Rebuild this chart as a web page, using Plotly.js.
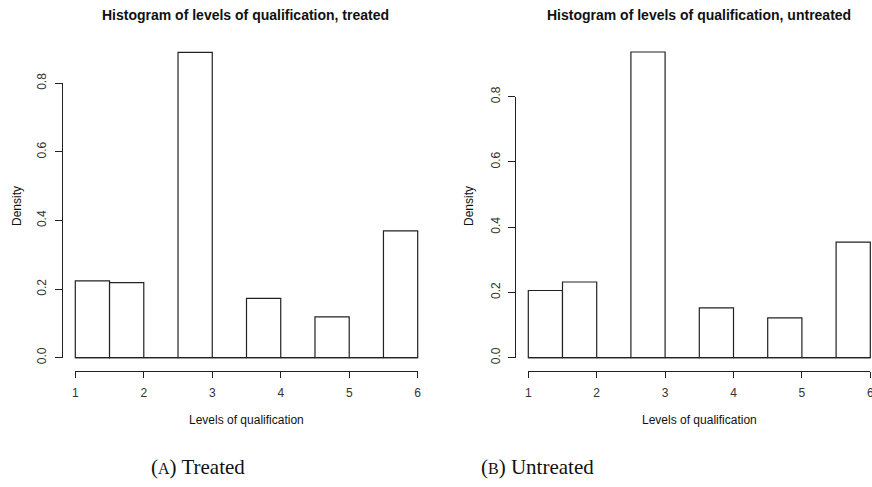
<!DOCTYPE html>
<html>
<head>
<meta charset="utf-8">
<script src="https://cdn.plot.ly/plotly-3.0.1.min.js"></script>
<style>html,body{margin:0;padding:0;background:#fff;}#chart{width:872px;height:487px;}</style>
</head>
<body>
<div id="chart"></div>
<script>
// ---- data ----
var breaks = [1, 1.5, 2, 2.5, 3, 3.5, 4, 4.5, 5, 5.5, 6];
var densityTreated   = [0.224, 0.219, 0, 0.890, 0, 0.173, 0, 0.119, 0, 0.370];
var densityUntreated = [0.206, 0.232, 0, 0.937, 0, 0.153, 0, 0.122, 0, 0.354];
var xTickVals = [1, 2, 3, 4, 5, 6];
var yTickVals = [0, 0.2, 0.4, 0.6, 0.8];
var yTickText = ['0.0', '0.2', '0.4', '0.6', '0.8'];
var titleTreated = 'Histogram of levels of qualification, treated';
var titleUntreated = 'Histogram of levels of qualification, untreated';
var xLabel = 'Levels of qualification';
var yLabel = 'Density';
var captionTreated = '(<span style="font-size:16px">A</span>) Treated';
var captionUntreated = '(<span style="font-size:16px">B</span>) Untreated';

// ---- layout helpers ----
var W = 872, H = 487;
function px(x) { return x / W; }
function py(y) { return 1 - y / H; }
var centers = [], widths = [];
for (var i = 0; i < breaks.length - 1; i++) {
  centers.push((breaks[i] + breaks[i + 1]) / 2);
  widths.push(breaks[i + 1] - breaks[i]);
}
var lineCol = '#222';
var fontFam = '"Liberation Sans", Arial, sans-serif';

function panel(cfg) {
  var kx = (cfg.x6px - cfg.x1px) / (xTickVals[xTickVals.length - 1] - xTickVals[0]);
  var ky = (cfg.y0px - cfg.y8px) / yTickVals[yTickVals.length - 1];
  var dTop = 40, dBot = 366;
  return {
    dataX: {
      domain: [px(cfg.dataLeft), px(cfg.dataRight)],
      range: [xTickVals[0] + (cfg.dataLeft - cfg.x1px) / kx, xTickVals[0] + (cfg.dataRight - cfg.x1px) / kx],
      visible: false, fixedrange: true
    },
    dataY: {
      domain: [py(dBot), py(dTop)],
      range: [(cfg.y0px - dBot) / ky, (cfg.y0px - dTop) / ky],
      visible: false, fixedrange: true
    },
    dispX: {
      domain: [px(cfg.x1px), px(cfg.x6px)],
      range: [xTickVals[0], xTickVals[xTickVals.length - 1]],
      anchor: 'free', position: py(cfg.xAxisPy),
      tickmode: 'array', tickvals: xTickVals,
      showline: true, linecolor: lineCol, linewidth: 1,
      ticks: 'outside', ticklen: 6, tickwidth: 1, tickcolor: lineCol,
      showgrid: false, zeroline: false,
      tickfont: {family: fontFam, size: 12, color: '#333'},
      ticklabelstandoff: 5, ticklabeloverflow: 'allow', fixedrange: true
    },
    dispY: {
      domain: [py(cfg.y0px), py(cfg.y8px)],
      range: [yTickVals[0], yTickVals[yTickVals.length - 1]],
      anchor: 'free', position: px(cfg.yAxisPx),
      tickmode: 'array', tickvals: yTickVals, ticktext: yTickText,
      tickangle: -90,
      showline: true, linecolor: lineCol, linewidth: 1,
      ticks: 'outside', ticklen: 7, tickwidth: 1, tickcolor: lineCol,
      showgrid: false, zeroline: false,
      tickfont: {family: fontFam, size: 12, color: '#333'},
      ticklabelstandoff: 4, ticklabeloverflow: 'allow', fixedrange: true
    }
  };
}

var L = panel({x1px: 75.3, x6px: 417.7, y0px: 357.7, y8px: 83.3, yAxisPx: 62, xAxisPy: 370.7, dataLeft: 64, dataRight: 430});
var R = panel({x1px: 528.3, x6px: 870.3, y0px: 357.7, y8px: 96.7, yAxisPx: 515.3, xAxisPy: 370.7, dataLeft: 516, dataRight: 872});

function barTrace(dens, xa, ya) {
  return {
    type: 'bar', x: centers, y: dens, width: widths,
    xaxis: xa, yaxis: ya,
    marker: {color: '#ffffff', line: {color: lineCol, width: 1.2}},
    hoverinfo: 'x+y', showlegend: false
  };
}
function baseTrace(xa, ya) {
  return {
    type: 'scatter', mode: 'lines',
    x: [breaks[0], breaks[breaks.length - 1]], y: [0, 0],
    xaxis: xa, yaxis: ya,
    line: {color: lineCol, width: 1.2}, hoverinfo: 'skip', showlegend: false
  };
}
function emptyTrace(xa, ya) {
  return {type: 'scatter', mode: 'markers', x: [], y: [], xaxis: xa, yaxis: ya, showlegend: false, hoverinfo: 'skip'};
}

var data = [
  baseTrace('x', 'y'), barTrace(densityTreated, 'x', 'y'),
  baseTrace('x2', 'y2'), barTrace(densityUntreated, 'x2', 'y2'),
  emptyTrace('x3', 'y3'), emptyTrace('x4', 'y4')
];

function ann(text, x, y, size, opts) {
  var a = {text: text, x: px(x), y: py(y), xref: 'paper', yref: 'paper',
    xanchor: 'center', yanchor: 'middle', showarrow: false,
    font: {family: fontFam, size: size, color: '#111'}};
  for (var k in opts) a[k] = opts[k];
  return a;
}

var serif = '"Liberation Serif", "DejaVu Serif", serif';
var layout = {
  width: W, height: H,
  margin: {l: 0, r: 0, t: 0, b: 0},
  paper_bgcolor: '#ffffff', plot_bgcolor: 'rgba(0,0,0,0)',
  showlegend: false, bargap: 0,
  xaxis: L.dataX, yaxis: Object.assign({anchor: 'x'}, L.dataY),
  xaxis2: Object.assign({anchor: 'y2'}, R.dataX), yaxis2: Object.assign({anchor: 'x2'}, R.dataY),
  xaxis3: L.dispX, yaxis3: L.dispY,
  xaxis4: R.dispX, yaxis4: R.dispY,
  annotations: [
    ann('<b>' + titleTreated + '</b>', 246, 15, 14),
    ann('<b>' + titleUntreated + '</b>', 699, 15, 14),
    ann(xLabel, 246.5, 420, 12),
    ann(xLabel, 699.5, 420, 12),
    ann(yLabel, 17, 206, 12, {textangle: -90}),
    ann(yLabel, 469, 206, 12, {textangle: -90}),
    ann(captionTreated, 198, 467, 21, {font: {family: serif, size: 21, color: '#111'}}),
    ann(captionUntreated, 537.5, 467, 21, {font: {family: serif, size: 21, color: '#111'}})
  ]
};

Plotly.newPlot('chart', data, layout, {displayModeBar: false, staticPlot: true});
</script>
</body>
</html>
